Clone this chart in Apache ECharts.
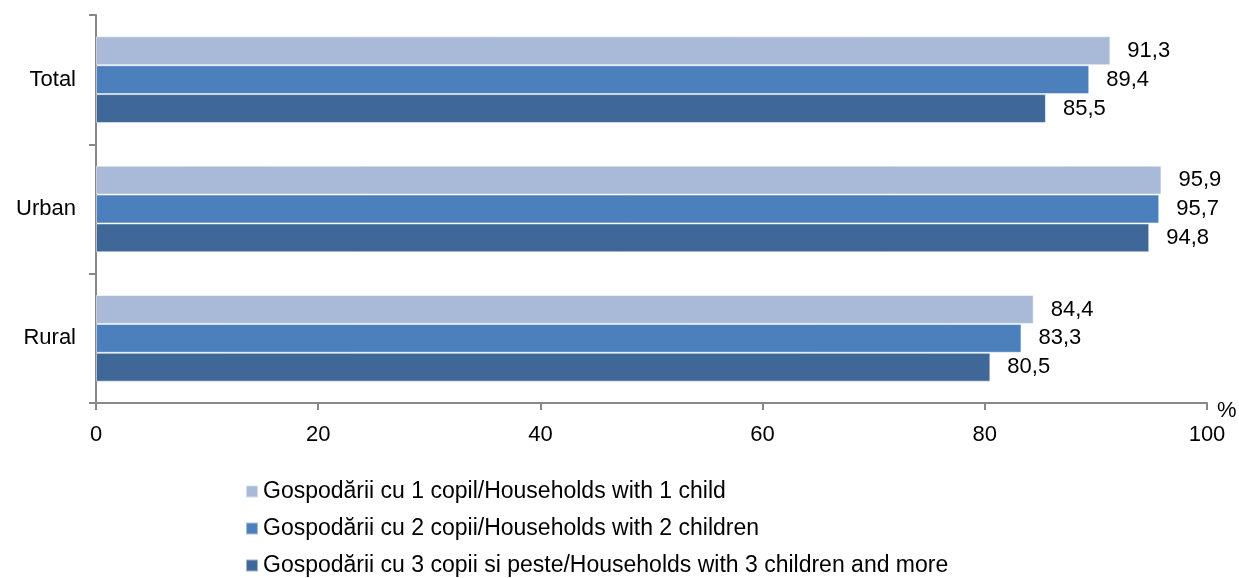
<!DOCTYPE html>
<html>
<head>
<meta charset="utf-8">
<script src="https://cdn.jsdelivr.net/npm/echarts@6/dist/echarts.min.js"></script>
<style>
  html, body { margin: 0; padding: 0; background: #fff; }
  #main { width: 1239px; height: 578px; }
</style>
</head>
<body>
<div id="main"></div>
<script>
// 数据
const categories = ["Total", "Urban", "Rural"];
const seriesNames = [
  "Gospodării cu 1 copil/Households with 1 child",
  "Gospodării cu 2 copii/Households with 2 children",
  "Gospodării cu 3 copii si peste/Households with 3 children and more"
];
const oneChild = [91.3, 95.9, 84.4];
const twoChildren = [89.4, 95.7, 83.3];
const threeChildren = [85.5, 94.8, 80.5];
const colors = ["#A9B9D8", "#4C80BC", "#3F6898"];
const unitLabel = "%";

const FONT = "Liberation Sans, Arial, sans-serif";
const chart = echarts.init(document.getElementById("main"));

function makeSeries(name, data, color) {
  return {
    name: name,
    type: "bar",
    data: data,
    barGap: "0%",
    barCategoryGap: "33%",
    itemStyle: {
      color: color,
      borderColor: "rgba(255,255,255,0.5)",
      borderWidth: 1
    },
    label: {
      show: true,
      position: "right",
      distance: 17,
      color: "#000",
      fontSize: 22,
      fontFamily: FONT,
      formatter: (p) => p.value.toFixed(1).replace(".", ",")
    }
  };
}

// 图例：每项单独一个，竖排
const legendTops = [475, 512, 549];
const legends = seriesNames.map((n, i) => ({
  left: 240,
  top: legendTops[i],
  itemWidth: 12,
  itemHeight: 12,
  itemGap: 0,
  icon: "rect",
  textStyle: { fontSize: 23, color: "#000", fontFamily: FONT, padding: [0, 0, 0, 0] },
  data: [n]
}));

const options = {
  animation: false,
  textStyle: { fontFamily: FONT },
  grid: { left: 96, right: 32, top: 15, bottom: 175, containLabel: false, outerBoundsMode: "none" },
  legend: legends,
  // 单位 %
  graphic: [{
    type: "text",
    left: 1217,
    top: 400,
    style: { text: unitLabel, fontSize: 22, fill: "#000", font: "22px " + FONT }
  }],
  xAxis: {
    type: "value",
    min: 0,
    max: 100,
    interval: 20,
    splitLine: { show: false },
    axisLine: { show: true, lineStyle: { color: "#888", width: 2 } },
    axisTick: { show: true, length: 7, lineStyle: { color: "#888", width: 2 } },
    axisLabel: { fontSize: 22, color: "#000", fontFamily: FONT, margin: 21 }
  },
  yAxis: {
    type: "category",
    inverse: true,
    data: categories,
    axisLine: { show: true, lineStyle: { color: "#888", width: 2 } },
    axisTick: { show: true, length: 7, lineStyle: { color: "#888", width: 2 } },
    axisLabel: { fontSize: 22, color: "#000", fontFamily: FONT, margin: 20 }
  },
  series: [
    makeSeries(seriesNames[0], oneChild, colors[0]),
    makeSeries(seriesNames[1], twoChildren, colors[1]),
    makeSeries(seriesNames[2], threeChildren, colors[2])
  ]
};

chart.setOption(options);
</script>
</body>
</html>
